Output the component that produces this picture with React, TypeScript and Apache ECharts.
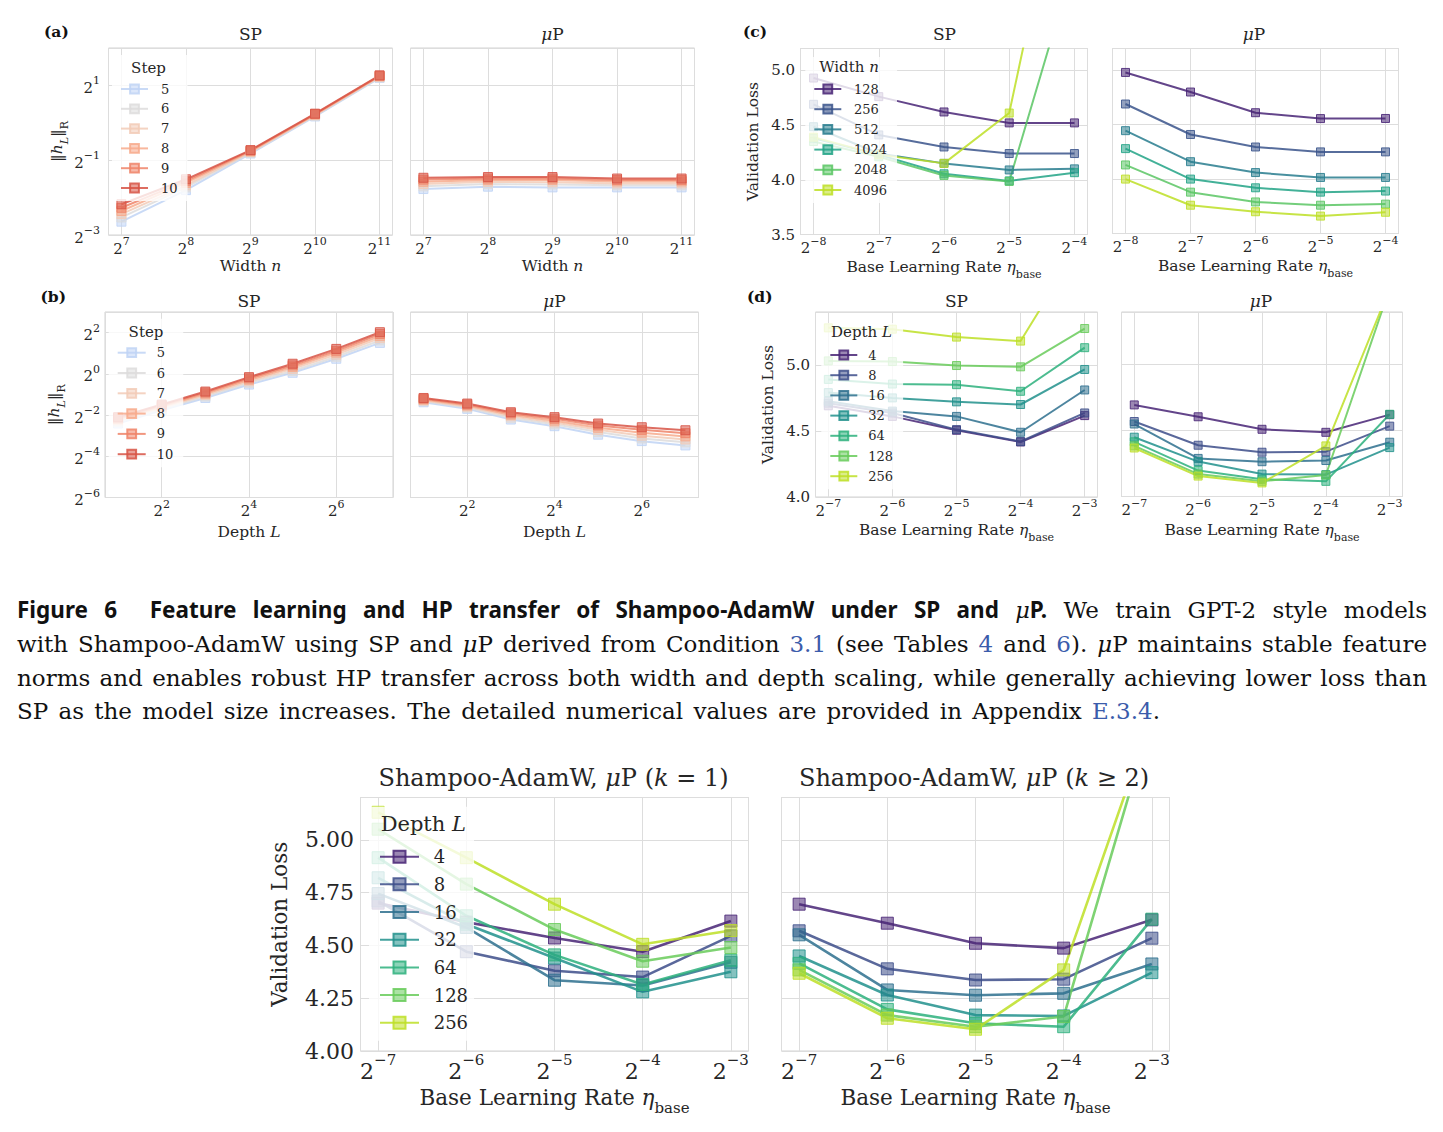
import React, { useEffect, useRef } from 'react';
import * as echarts from 'echarts';

const PAGE_W = 1443;
const PAGE_H = 1132;
const INK = '#262626';
const GRID_LINE = '#dddddd';
const FRAME = '#d2d2d2';
const SERIF = 'DejaVu Serif';

// ---------- (a), (b): feature norm ||h_L||_R over training steps ----------
const WIDTHS = [128, 256, 512, 1024, 2048];
const DEPTHS = [2, 4, 8, 16, 32, 64, 128];
const STEPS = ['5', '6', '7', '8', '9', '10'];
const STEP_COLORS = ['#c0d4f5', '#dddcdc', '#f2cbb7', '#f7aa8c', '#ee8468', '#d75445'];

const NORM_WIDTH_SP = [
  [0.160, 0.287, 0.566, 1.125, 2.30],
  [0.173, 0.302, 0.574, 1.141, 2.32],
  [0.184, 0.314, 0.582, 1.153, 2.35],
  [0.195, 0.328, 0.590, 1.165, 2.37],
  [0.207, 0.339, 0.597, 1.177, 2.39],
  [0.221, 0.351, 0.603, 1.185, 2.41],
];
const NORM_WIDTH_MUP = [
  [0.293, 0.306, 0.302, 0.302, 0.302],
  [0.308, 0.321, 0.319, 0.314, 0.314],
  [0.321, 0.335, 0.332, 0.325, 0.325],
  [0.335, 0.346, 0.346, 0.337, 0.337],
  [0.349, 0.356, 0.356, 0.346, 0.346],
  [0.361, 0.366, 0.366, 0.356, 0.356],
];
const NORM_DEPTH_SP = [
  [0.188, 0.293, 0.444, 0.697, 1.035, 1.659, 2.828],
  [0.199, 0.308, 0.467, 0.737, 1.102, 1.778, 3.074],
  [0.209, 0.321, 0.490, 0.779, 1.181, 1.905, 3.317],
  [0.218, 0.332, 0.511, 0.818, 1.257, 2.042, 3.555],
  [0.225, 0.344, 0.532, 0.858, 1.329, 2.173, 3.811],
  [0.233, 0.356, 0.551, 0.895, 1.404, 2.313, 4.056],
];
const NORM_DEPTH_MUP = [
  [0.384, 0.308, 0.215, 0.172, 0.129, 0.104, 0.090],
  [0.398, 0.321, 0.227, 0.183, 0.141, 0.114, 0.100],
  [0.409, 0.332, 0.240, 0.195, 0.152, 0.125, 0.110],
  [0.420, 0.344, 0.252, 0.207, 0.163, 0.138, 0.122],
  [0.432, 0.356, 0.264, 0.221, 0.176, 0.152, 0.136],
  [0.444, 0.368, 0.275, 0.233, 0.188, 0.166, 0.150],
];

// ---------- (c), (d) and bottom row: validation loss vs base learning rate ----------
const LR_WIDTH = [0.00390625, 0.0078125, 0.015625, 0.03125, 0.0625];
const LR_DEPTH = [0.0078125, 0.015625, 0.03125, 0.0625, 0.125];
const MODEL_WIDTHS = ['128', '256', '512', '1024', '2048', '4096'];
const MODEL_DEPTHS = ['4', '8', '16', '32', '64', '128', '256'];
const WIDTH_COLORS = ['#482475', '#3a548b', '#287d8e', '#22a386', '#5ac664', '#bddf26'];
const DEPTH_COLORS = ['#482475', '#3d4d89', '#2e708e', '#21918c', '#2db07d', '#68cb5b', '#bddf26'];

const LOSS_WIDTH_SP = [
  [4.93, 4.76, 4.62, 4.52, 4.52],
  [4.69, 4.41, 4.30, 4.24, 4.24],
  [4.485, 4.24, 4.15, 4.09, 4.10],
  [4.38, 4.23, 4.055, 3.99, 4.065],
  [4.35, 4.21, 4.04, 3.985, 6.0],
  [4.39, 4.23, 4.15, 4.61, 7.4],
];
const LOSS_WIDTH_MUP = [
  [4.98, 4.80, 4.61, 4.556, 4.557],
  [4.69, 4.41, 4.295, 4.25, 4.25],
  [4.445, 4.16, 4.06, 4.015, 4.015],
  [4.28, 4.00, 3.92, 3.88, 3.89],
  [4.13, 3.88, 3.79, 3.76, 3.77],
  [4.00, 3.76, 3.70, 3.66, 3.695],
];
const LOSS_DEPTH_SP = [
  [4.69, 4.61, 4.505, 4.416, 4.616],
  [4.71, 4.636, 4.51, 4.42, 4.636],
  [4.725, 4.65, 4.61, 4.49, 4.81],
  [4.79, 4.75, 4.72, 4.70, 4.965],
  [4.89, 4.855, 4.85, 4.80, 5.13],
  [5.03, 5.025, 4.995, 4.985, 5.275],
  [5.28, 5.27, 5.21, 5.18, 5.97],
];
// muP with k >= 2 (also panel (d), muP)
const LOSS_DEPTH_MUP = [
  [4.695, 4.605, 4.51, 4.487, 4.621],
  [4.569, 4.389, 4.336, 4.34, 4.534],
  [4.55, 4.289, 4.264, 4.273, 4.412],
  [4.45, 4.265, 4.17, 4.166, 4.371],
  [4.415, 4.197, 4.131, 4.115, 4.624],
  [4.384, 4.17, 4.115, 4.163, 5.58],
  [4.368, 4.155, 4.103, 4.384, 5.58],
];
// muP with k = 1
const LOSS_DEPTH_MUP_K1 = [
  [4.70, 4.61, 4.535, 4.47, 4.615],
  [4.71, 4.47, 4.38, 4.35, 4.545],
  [4.745, 4.585, 4.335, 4.31, 4.42],
  [4.82, 4.60, 4.44, 4.28, 4.375],
  [4.915, 4.64, 4.455, 4.315, 4.43],
  [5.05, 4.79, 4.575, 4.425, 4.49],
  [5.13, 4.915, 4.695, 4.505, 4.57],
];

// ---------- caption ----------
type Run = [string, string];
const CAPTION_LINES: { runs: Run[]; right: number; baseline: number }[] = [
  {
    right: 1427, baseline: 618,
    runs: [['h', 'Figure 6  Feature learning and HP transfer of Shampoo-AdamW under SP and '], ['hm', 'μ'], ['h', 'P.'], ['r', ' We train GPT-2 style models']],
  },
  {
    right: 1427, baseline: 652,
    runs: [['r', 'with Shampoo-AdamW using SP and '], ['m', 'μ'], ['r', 'P derived from Condition '], ['l', '3.1'], ['r', ' (see Tables '], ['l', '4'], ['r', ' and '], ['l', '6'], ['r', '). '], ['m', 'μ'], ['r', 'P maintains stable feature']],
  },
  {
    right: 1427, baseline: 685.5,
    runs: [['r', 'norms and enables robust HP transfer across both width and depth scaling, while generally achieving lower loss than']],
  },
  {
    right: 1160, baseline: 719,
    runs: [['r', 'SP as the model size increases. The detailed numerical values are provided in Appendix '], ['l', 'E.3.4'], ['r', '.']],
  },
];
const CAP_FONTS: Record<string, { font: string; fill: string; lift: number }> = {
  h: { font: 'bold 22.5px "Noto Sans"', fill: '#111111', lift: 8.6 },
  hm: { font: 'italic 22.5px "DejaVu Serif"', fill: '#111111', lift: 7.8 },
  r: { font: '23px "DejaVu Serif"', fill: '#111111', lift: 8 },
  m: { font: 'italic 23px "DejaVu Serif"', fill: '#111111', lift: 8 },
  l: { font: '23px "DejaVu Serif"', fill: '#3b5cab', lift: 8 },
};
const CAP_LEFT = 17;

// ---------- layout ----------
const GRIDS = [
  { left: 108.5, top: 48, width: 284, height: 187 },
  { left: 410.5, top: 48, width: 284, height: 187 },
  { left: 105, top: 312, width: 288, height: 185.5 },
  { left: 410.5, top: 312, width: 288, height: 185.5 },
  { left: 800.5, top: 48.5, width: 287, height: 186 },
  { left: 1112.5, top: 48.5, width: 286, height: 185 },
  { left: 815.5, top: 312, width: 282, height: 185 },
  { left: 1121.5, top: 312, width: 281, height: 184.5 },
  { left: 360.5, top: 797.5, width: 388, height: 253.5 },
  { left: 781.5, top: 797.5, width: 388, height: 253.5 },
];

function rgba(hex: string, a: number) {
  const n = parseInt(hex.slice(1), 16);
  return `rgba(${(n >> 16) & 255},${(n >> 8) & 255},${n & 255},${a})`;
}

function powLabel(v: number) {
  const k = Math.round(v);
  if (Math.abs(v - k) > 1e-6) return '';
  return `{b|2}{s|${String(k).replace('-', '\u2212')}}`;
}

function powRich(fs: number) {
  return {
    b: { fontFamily: SERIF, fontSize: fs, color: INK, lineHeight: Math.round(fs * 1.35), verticalAlign: 'bottom' },
    s: { fontFamily: SERIF, fontSize: Math.round(fs * 0.7), color: INK, lineHeight: Math.round(fs * 0.7), verticalAlign: 'top' },
  };
}

function nameRich(fs: number) {
  const lh = Math.round(fs * 1.35);
  const sub = Math.round(fs * 0.7);
  return {
    t: { fontFamily: SERIF, fontSize: fs, color: INK, lineHeight: lh, verticalAlign: 'top' },
    i: { fontFamily: SERIF, fontStyle: 'italic', fontSize: fs, color: INK, lineHeight: lh, verticalAlign: 'top' },
    sub: { fontFamily: SERIF, fontSize: sub, color: INK, lineHeight: Math.round(sub * 1.1), verticalAlign: 'bottom' },
    subi: { fontFamily: SERIF, fontStyle: 'italic', fontSize: sub, color: INK, lineHeight: Math.round(sub * 1.1), verticalAlign: 'bottom' },
  };
}

const WIDTH_NAME = '{t|Width }{i|n}';
const DEPTH_NAME = '{t|Depth }{i|L}';
const LR_NAME = '{t|Base Learning Rate }{i|η}{sub|base}';
const NORM_NAME = '{t|‖}{i|h}{subi|L}{t|‖}{sub|R}';
const LOSS_NAME = '{t|Validation Loss}';

function xAxisOf(grid: number, min: number, max: number, split: number, name: string, gap: number, big: boolean) {
  const fs = big ? 22 : 15;
  return {
    type: 'value', gridIndex: grid, min, max, splitNumber: split,
    axisLine: { show: false }, axisTick: { show: false },
    splitLine: { show: true, lineStyle: { color: GRID_LINE, width: 1 } },
    axisLabel: {
      show: true, margin: 1, formatter: powLabel, rich: powRich(fs),
      showMinLabel: false, showMaxLabel: false,
    },
    name, nameLocation: 'middle', nameGap: gap,
    nameTextStyle: { rich: nameRich(big ? 21.5 : 15.5) },
  };
}

function yAxisOf(grid: number, min: number, max: number, interval: number, kind: string,
  labels: boolean, name: string, gap: number, margin: number, big: boolean) {
  const fs = big ? 22 : 15;
  const axisLabel: any = { show: labels, margin, showMaxLabel: false };
  if (kind === 'pow') {
    axisLabel.formatter = powLabel;
    axisLabel.rich = powRich(fs);
  } else {
    const digits = kind === 'lin2' ? 2 : 1;
    axisLabel.formatter = (v: number) => v.toFixed(digits);
    axisLabel.fontFamily = SERIF;
    axisLabel.fontSize = fs;
    axisLabel.color = INK;
  }
  return {
    type: 'value', gridIndex: grid, min, max, interval,
    axisLine: { show: false }, axisTick: { show: false },
    splitLine: { show: true, lineStyle: { color: GRID_LINE, width: 1 } },
    axisLabel,
    name: labels ? name : '', nameLocation: 'middle', nameGap: gap, nameRotate: 90,
    nameTextStyle: { rich: nameRich(big ? 21.5 : 15.5) },
  };
}

function lineSet(prefix: string, labels: string[], colors: string[], xs: number[], rows: number[][],
  grid: number, logY: boolean, mark: number, lw: number) {
  return rows.map((row, i) => ({
    type: 'line',
    name: `${prefix} ${labels[i]}`,
    xAxisIndex: grid, yAxisIndex: grid,
    data: row.map((v, j) => [Math.log2(xs[j]), logY ? Math.log2(v) : v]),
    symbol: 'rect', symbolSize: mark, showSymbol: true, showAllSymbol: true,
    clip: true, silent: true, z: 2,
    lineStyle: { color: rgba(colors[i], 0.85), width: lw },
    itemStyle: { color: rgba(colors[i], 0.55), borderColor: rgba(colors[i], 0.85), borderWidth: 1 },
    emphasis: { disabled: true },
  }));
}

function legendOf(prefix: string, labels: string[], left: number, top: number, o: any) {
  return {
    orient: 'vertical', left, top,
    data: labels.map((l) => `${prefix} ${l}`),
    formatter: (n: string) => n.split(' ').pop(),
    itemWidth: o.iw, itemHeight: o.ih, itemGap: o.gap,
    padding: o.pad,
    backgroundColor: 'rgba(255,255,255,0.8)',
    borderWidth: 0,
    selectedMode: false,
    z: 5,
    textStyle: { fontFamily: SERIF, fontSize: o.fs, color: INK, lineHeight: o.lh, padding: [0, 0, 0, o.tp] },
  };
}

function richText(x: number, y: number, text: string, rich: any, align = 'center') {
  return {
    type: 'text', x, y, z: 100, silent: true,
    style: { text, rich, align, verticalAlign: 'middle' },
  };
}

function textRich(fs: number) {
  return {
    r: { fontFamily: SERIF, fontSize: fs, fill: INK },
    i: { fontFamily: SERIF, fontStyle: 'italic', fontSize: fs, fill: INK },
    b: { fontFamily: SERIF, fontWeight: 'bold', fontSize: fs, fill: '#111111' },
  };
}

function captionElements() {
  const ctx = document.createElement('canvas').getContext('2d') as CanvasRenderingContext2D;
  const width = (k: string, t: string) => { ctx.font = CAP_FONTS[k].font; return ctx.measureText(t).width; };
  const els: any[] = [];
  CAPTION_LINES.forEach((line) => {
    const words: { parts: Run[]; gap: number }[] = [];
    let cur: { parts: Run[]; gap: number } | null = null;
    let pending = 0;
    line.runs.forEach(([k, t]) => {
      t.split(' ').forEach((p, i) => {
        if (i > 0) {
          if (cur) { words.push(cur); cur = null; }
          pending += 1;
        }
        if (p.length) {
          if (!cur) { cur = { parts: [], gap: words.length ? pending : 0 }; pending = 0; }
          cur.parts.push([k, p]);
        }
      });
    });
    if (cur) words.push(cur);
    const used = words.reduce((s, w) => s + w.parts.reduce((a, [k, t]) => a + width(k, t), 0), 0);
    const units = words.reduce((s, w) => s + w.gap, 0);
    const unit = (line.right - CAP_LEFT - used) / units;
    let x = CAP_LEFT;
    words.forEach((w) => {
      x += w.gap * unit;
      w.parts.forEach(([k, t]) => {
        const f = CAP_FONTS[k];
        els.push({
          type: 'text', x, y: line.baseline - f.lift, z: 100, silent: true,
          style: { text: t, font: f.font, fill: f.fill, align: 'left', verticalAlign: 'middle' },
        });
        x += width(k, t);
      });
    });
  });
  return els;
}

function buildOption() {
  const mu = '{i|μ}{r|P}';
  const small = textRich(17);
  const big = textRich(24);
  const legTitle = textRich(15);
  const legTitleBig = textRich(21);
  const tag = textRich(15.5);

  const graphic = [
    richText(44, 31.7, '{b|(a)}', tag, 'left'),
    richText(40.5, 296.7, '{b|(b)}', tag, 'left'),
    richText(743, 31.7, '{b|(c)}', tag, 'left'),
    richText(747, 296.7, '{b|(d)}', tag, 'left'),
    richText(250.5, 34, '{r|SP}', small),
    richText(552.5, 34, mu, small),
    richText(249, 300.5, '{r|SP}', small),
    richText(554.5, 300.5, mu, small),
    richText(944.5, 34, '{r|SP}', small),
    richText(1254, 34, mu, small),
    richText(956.5, 300.5, '{r|SP}', small),
    richText(1261, 300.5, mu, small),
    richText(553.5, 778, '{r|Shampoo-AdamW, }{i|μ}{r|P (}{i|k}{r| = 1)}', big),
    richText(974, 778, '{r|Shampoo-AdamW, }{i|μ}{r|P (}{i|k}{r| ≥ 2)}', big),
    richText(148.5, 68, '{r|Step}', legTitle),
    richText(146, 331.7, '{r|Step}', legTitle),
    richText(849, 66.7, '{r|Width }{i|n}', legTitle),
    richText(861.5, 332.3, '{r|Depth }{i|L}', legTitle),
    richText(423.3, 824.3, '{r|Depth }{i|L}', legTitleBig),
    ...captionElements(),
  ];

  const xAxis = [
    xAxisOf(0, 6.8, 11.2, 4, WIDTH_NAME, 23, false),
    xAxisOf(1, 6.8, 11.2, 4, WIDTH_NAME, 23, false),
    xAxisOf(2, 0.7, 7.3, 3, DEPTH_NAME, 26.8, false),
    xAxisOf(3, 0.7, 7.3, 3, DEPTH_NAME, 26.8, false),
    xAxisOf(4, -8.2, -3.8, 4, LR_NAME, 24.5, false),
    xAxisOf(5, -8.2, -3.8, 4, LR_NAME, 24.5, false),
    xAxisOf(6, -7.2, -2.8, 4, LR_NAME, 25.3, false),
    xAxisOf(7, -7.2, -2.8, 4, LR_NAME, 25.3, false),
    xAxisOf(8, -7.2, -2.8, 4, LR_NAME, 35.5, true),
    xAxisOf(9, -7.2, -2.8, 4, LR_NAME, 35.5, true),
  ];
  const yAxis = [
    yAxisOf(0, -3, 2, 2, 'pow', true, NORM_NAME, 38, 8.5, false),
    yAxisOf(1, -3, 2, 2, 'pow', false, '', 0, 8, false),
    yAxisOf(2, -6, 3, 2, 'pow', true, NORM_NAME, 37.8, 5, false),
    yAxisOf(3, -6, 3, 2, 'pow', false, '', 0, 8, false),
    yAxisOf(4, 3.5, 5.2, 0.5, 'lin1', true, LOSS_NAME, 35, 5.5, false),
    yAxisOf(5, 3.5, 5.2, 0.5, 'lin1', false, '', 0, 8, false),
    yAxisOf(6, 4.0, 5.4, 0.5, 'lin1', true, LOSS_NAME, 35, 5.5, false),
    yAxisOf(7, 4.0, 5.4, 0.5, 'lin1', false, '', 0, 8, false),
    yAxisOf(8, 4.0, 5.2, 0.25, 'lin2', true, LOSS_NAME, 62.7, 6.5, true),
    yAxisOf(9, 4.0, 5.2, 0.25, 'lin2', false, '', 0, 8, true),
  ];

  const series = [
    ...lineSet('step', STEPS, STEP_COLORS, WIDTHS, NORM_WIDTH_SP, 0, true, 9, 2),
    ...lineSet('step', STEPS, STEP_COLORS, WIDTHS, NORM_WIDTH_MUP, 1, true, 9, 2),
    ...lineSet('step', STEPS, STEP_COLORS, DEPTHS, NORM_DEPTH_SP, 2, true, 9, 2),
    ...lineSet('step', STEPS, STEP_COLORS, DEPTHS, NORM_DEPTH_MUP, 3, true, 9, 2),
    ...lineSet('n', MODEL_WIDTHS, WIDTH_COLORS, LR_WIDTH, LOSS_WIDTH_SP, 4, false, 8, 2),
    ...lineSet('n', MODEL_WIDTHS, WIDTH_COLORS, LR_WIDTH, LOSS_WIDTH_MUP, 5, false, 8, 2),
    ...lineSet('L', MODEL_DEPTHS, DEPTH_COLORS, LR_DEPTH, LOSS_DEPTH_SP, 6, false, 8, 2),
    ...lineSet('L', MODEL_DEPTHS, DEPTH_COLORS, LR_DEPTH, LOSS_DEPTH_MUP, 7, false, 8, 2),
    ...lineSet('L', MODEL_DEPTHS, DEPTH_COLORS, LR_DEPTH, LOSS_DEPTH_MUP_K1, 8, false, 12, 2.6),
    ...lineSet('L', MODEL_DEPTHS, DEPTH_COLORS, LR_DEPTH, LOSS_DEPTH_MUP, 9, false, 12, 2.6),
  ];

  const legend = [
    legendOf('step', STEPS, 112, 55, { iw: 27, ih: 11, gap: 5.8, pad: [27, 10, 6, 8], fs: 13, lh: 14, tp: 8 }),
    legendOf('step', STEPS, 108.7, 318.7, { iw: 28, ih: 11, gap: 6.3, pad: [27, 10, 6, 8], fs: 13, lh: 14, tp: 6 }),
    legendOf('n', MODEL_WIDTHS, 805.3, 57, { iw: 27, ih: 11, gap: 6.2, pad: [25, 10, 6, 8], fs: 13, lh: 14, tp: 7.7 }),
    legendOf('L', MODEL_DEPTHS, 821.3, 323, { iw: 27, ih: 11, gap: 6.2, pad: [25, 10, 6, 8], fs: 13, lh: 14, tp: 6 }),
    legendOf('L', MODEL_DEPTHS, 369, 806.7, { iw: 39, ih: 15, gap: 7.67, pad: [40, 6, 8, 10], fs: 18, lh: 20, tp: 9.7 }),
  ];

  return {
    animation: false,
    backgroundColor: '#ffffff',
    grid: GRIDS.map((g) => ({
      ...g, show: true, borderColor: FRAME, borderWidth: 1, backgroundColor: 'transparent',
      containLabel: false, outerBoundsMode: 'none',
    })),
    xAxis, yAxis, series, legend, graphic,
  };
}

export default function App() {
  const ref = useRef<HTMLDivElement>(null);
  useEffect(() => {
    const el = ref.current;
    if (!el) return;
    const chart = echarts.init(el, undefined, { renderer: 'svg' });
    chart.setOption(buildOption() as any);
    return () => chart.dispose();
  }, []);
  return (
    <div
      ref={ref}
      style={{ position: 'absolute', left: 0, top: 0, width: PAGE_W, height: PAGE_H, background: '#ffffff' }}
    />
  );
}
